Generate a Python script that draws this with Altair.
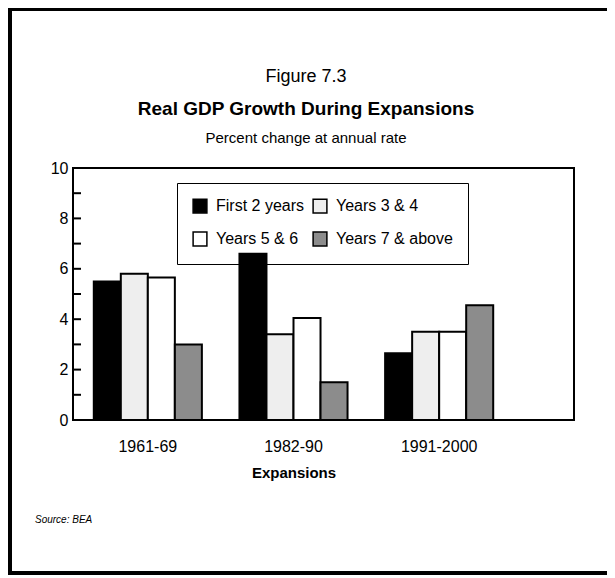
import altair as alt
import pandas as pd

# ---- data ----
periods = ["1961-69", "1982-90", "1991-2000"]
series = ["First 2 years", "Years 3 & 4", "Years 5 & 6", "Years 7 & above"]
first_2_years = [5.5, 6.6, 2.65]
years_3_4 = [5.8, 3.4, 3.5]
years_5_6 = [5.65, 4.05, 3.5]
years_7_above = [3.0, 1.5, 4.55]
series_colors = ["#000000", "#eeeeee", "#ffffff", "#8c8c8c"]
# legend is laid out column by column: this order gives the reference's rows
legend_order = ["First 2 years", "Years 5 & 6", "Years 3 & 4", "Years 7 & above"]
legend_colors = ["#000000", "#ffffff", "#eeeeee", "#8c8c8c"]
y_ticks = [0, 2, 4, 6, 8, 10]
minor_ticks = [1, 2, 3, 4, 5, 6, 7, 8, 9]
title_lines = ["Figure 7.3", "Real GDP Growth During Expansions", "Percent change at annual rate"]
source_text = ["Source:  BEA"]

FONT = "Liberation Sans"

rows = []
for vals, s in zip([first_2_years, years_3_4, years_5_6, years_7_above], series):
    for p, v in zip(periods, vals):
        rows.append({"period": p, "series": s, "value": v})
df = pd.DataFrame(rows)

W, H = 501, 252

bars = alt.Chart(df).mark_bar(stroke="black", strokeWidth=2).encode(
    x=alt.X("period:N", sort=periods,
            scale=alt.Scale(domain=periods, range=[2, 439], paddingInner=0.258, paddingOuter=0.129),
            axis=alt.Axis(title="Expansions", labelAngle=0, domain=False, ticks=False,
                          labelFont=FONT, labelFontSize=16, labelColor="black", labelPadding=18,
                          titleFont=FONT, titleFontSize=15, titleFontWeight="bold",
                          titleColor="black", titlePadding=11)),
    xOffset=alt.XOffset("series:N", sort=series,
                        scale=alt.Scale(domain=series, paddingInner=0, paddingOuter=0)),
    y=alt.Y("value:Q", scale=alt.Scale(domain=[0, 10], nice=False, zero=True),
            axis=alt.Axis(title=None, values=y_ticks, ticks=False, domain=False, grid=False,
                          labelFont=FONT, labelFontSize=16, labelColor="black", labelPadding=5)),
    color=alt.Color("series:N", sort=legend_order,
                    scale=alt.Scale(domain=legend_order, range=legend_colors),
                    legend=alt.Legend(title=None, orient="none", legendX=104, legendY=15,
                                      columns=2, columnPadding=5, rowPadding=13,
                                      symbolType="square", symbolSize=190,
                                      symbolStrokeColor="black", symbolStrokeWidth=1.5,
                                      symbolOpacity=1,
                                      labelFont=FONT, labelFontSize=16, labelColor="black",
                                      labelOffset=8, padding=15,
                                      strokeColor="black")),
)

ticks = alt.Chart(pd.DataFrame({"v": minor_ticks})).mark_rule(color="black", strokeWidth=2).encode(
    y=alt.Y("v:Q"),
    x=alt.value(0),
    x2=alt.value(8),
)

title_df = pd.DataFrame({"t": title_lines, "row": [0, 1, 2]})

titles = alt.Chart(title_df).transform_filter("datum.row == 0").mark_text(
    font=FONT, fontSize=18, color="black", baseline="middle", align="center"
).encode(text="t:N", x=alt.value(233), y=alt.value(-91))

title_bold = alt.Chart(title_df).transform_filter("datum.row == 1").mark_text(
    font=FONT, fontSize=19, fontWeight="bold", color="black", baseline="middle", align="center"
).encode(text="t:N", x=alt.value(233), y=alt.value(-59))

subtitle = alt.Chart(title_df).transform_filter("datum.row == 2").mark_text(
    font=FONT, fontSize=15, color="black", baseline="middle", align="center"
).encode(text="t:N", x=alt.value(233), y=alt.value(-30))

source = alt.Chart(pd.DataFrame({"t": source_text})).mark_text(
    font=FONT, fontSize=10, fontStyle="italic", color="black", baseline="middle", align="left"
).encode(text="t:N", x=alt.value(-38), y=alt.value(352))

border = alt.Chart(pd.DataFrame({"a": [0]})).mark_rect(
    fill=None, stroke="black", strokeWidth=4
).encode(x=alt.value(-63), x2=alt.value(600), y=alt.value(-159), y2=alt.value(405))

chart = alt.layer(border, bars, ticks, titles, title_bold, subtitle, source).properties(
    width=W, height=H,
    autosize=alt.AutoSizeParams(type="none"),
    padding={"left": 65, "top": 160, "right": 33, "bottom": 155},
).configure(background="white").configure_view(stroke="black", strokeWidth=2)

chart.save("out.html", embed_options={"renderer": "svg", "actions": False})
